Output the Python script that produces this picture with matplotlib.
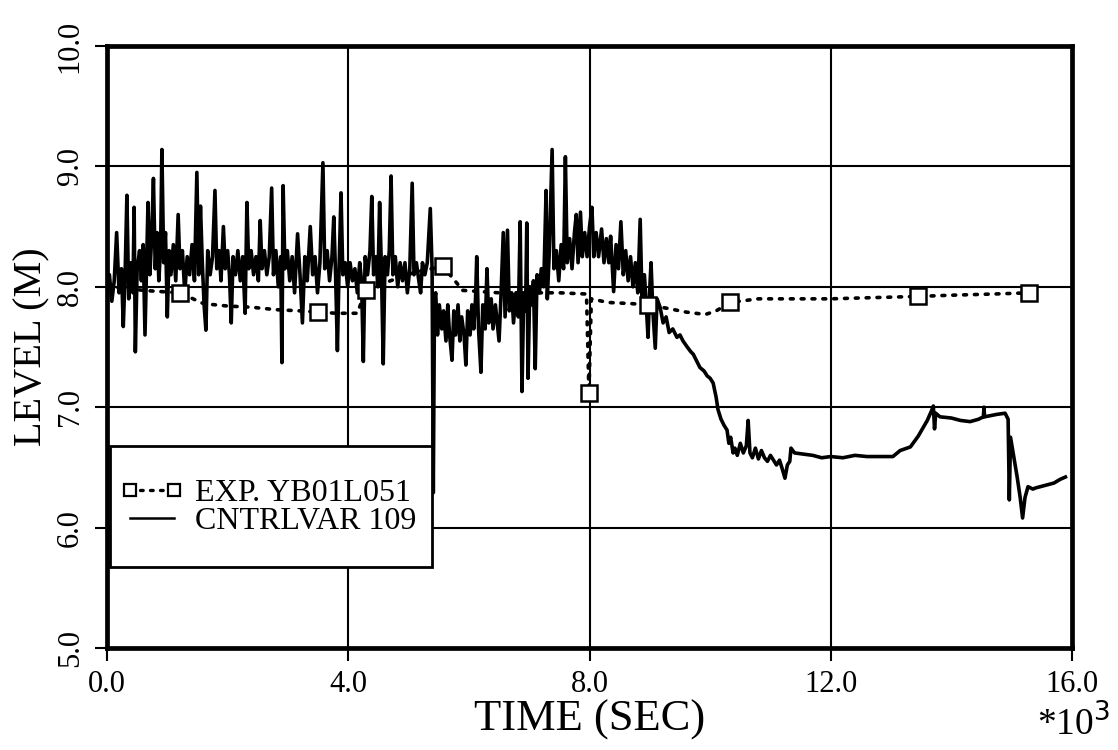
import matplotlib
matplotlib.use("Agg")
import matplotlib.pyplot as plt
from matplotlib.lines import Line2D
from matplotlib.patches import Rectangle

# ---------------- data (time in 1000 s, level in m) ----------------
cv_time = [
    0.00, 0.04, 0.08, 0.12, 0.16, 0.20, 0.24, 0.27, 0.30, 0.33, 0.36, 0.40, 0.43, 0.45, 0.47, 0.50,
    0.54, 0.57, 0.60, 0.63, 0.66, 0.68, 0.71, 0.74, 0.77, 0.80, 0.83, 0.86, 0.89, 0.91, 0.94, 0.97,
    1.00, 1.03, 1.06, 1.10, 1.14, 1.18, 1.21, 1.25, 1.29, 1.33, 1.37, 1.41, 1.45, 1.49, 1.52, 1.55,
    1.58, 1.61, 1.64, 1.67, 1.71, 1.75, 1.79, 1.82, 1.86, 1.89, 1.93, 1.96, 2.00, 2.03, 2.06, 2.09,
    2.13, 2.17, 2.21, 2.25, 2.29, 2.32, 2.35, 2.39, 2.43, 2.47, 2.51, 2.54, 2.57, 2.61, 2.65, 2.69,
    2.73, 2.76, 2.80, 2.84, 2.88, 2.90, 2.92, 2.95, 2.99, 3.03, 3.07, 3.11, 3.16, 3.20, 3.24, 3.28,
    3.32, 3.37, 3.41, 3.45, 3.49, 3.53, 3.58, 3.61, 3.65, 3.69, 3.73, 3.76, 3.79, 3.82, 3.85, 3.88,
    3.91, 3.95, 3.99, 4.03, 4.07, 4.11, 4.15, 4.19, 4.22, 4.25, 4.28, 4.32, 4.36, 4.39, 4.42, 4.46,
    4.49, 4.52, 4.55, 4.58, 4.61, 4.65, 4.68, 4.71, 4.74, 4.78, 4.82, 4.86, 4.90, 4.94, 4.98, 5.02,
    5.06, 5.09, 5.13, 5.17, 5.20, 5.23, 5.27, 5.31, 5.36, 5.39, 5.41, 5.43,
    5.45, 5.48, 5.51, 5.55, 5.58, 5.62, 5.65, 5.68, 5.72, 5.75, 5.78, 5.82, 5.85, 5.88, 5.92, 5.95,
    5.98, 6.02, 6.05, 6.08, 6.11, 6.13, 6.16, 6.20, 6.23, 6.27, 6.30, 6.33, 6.37, 6.40, 6.44, 6.47,
    6.50, 6.53, 6.57, 6.60, 6.64, 6.67, 6.71, 6.74, 6.78, 6.82, 6.85, 6.88, 6.91, 6.94, 6.96, 6.98,
    7.01, 7.04, 7.07, 7.10, 7.13, 7.17, 7.20, 7.24, 7.28, 7.30, 7.33, 7.38, 7.41, 7.45, 7.49, 7.53,
    7.57, 7.60, 7.63, 7.67, 7.71, 7.75, 7.78, 7.81, 7.85, 7.88, 7.92, 7.96, 8.00, 8.04, 8.07, 8.11,
    8.15, 8.20, 8.24, 8.28, 8.32, 8.35, 8.40, 8.44, 8.48, 8.52, 8.56, 8.60, 8.64, 8.68, 8.72, 8.76,
    8.80, 8.84, 8.87, 8.91, 8.94, 8.97, 9.00, 9.02, 9.05, 9.09, 9.12, 9.17, 9.22, 9.27, 9.32, 9.38,
    9.45, 9.50, 9.55, 9.62, 9.68, 9.72, 9.78, 9.83, 9.90, 9.95, 10.00, 10.05, 10.10, 10.13, 10.18, 10.23,
    10.28, 10.31, 10.34, 10.38, 10.41, 10.45, 10.50, 10.55, 10.60, 10.63, 10.66, 10.70, 10.75, 10.80, 10.85, 10.90,
    10.95, 11.00, 11.05, 11.10, 11.15, 11.20, 11.24, 11.28, 11.32, 11.34, 11.40, 11.55, 11.70, 11.85, 12.00, 12.20,
    12.40, 12.60, 12.80, 13.03, 13.15, 13.32, 13.45, 13.60, 13.67, 13.70, 13.72, 13.74, 13.81, 14.00, 14.15, 14.31,
    14.45, 14.53, 14.54, 14.55, 14.75, 14.89, 14.94, 14.96, 14.98, 15.03, 15.09, 15.14, 15.18, 15.22, 15.27, 15.35,
    15.40, 15.55, 15.70, 15.80, 15.89,
]
cv_level = [
    7.95, 8.10, 7.88, 8.05, 8.45, 7.95, 8.15, 7.67, 8.10, 8.76, 7.90, 8.20, 7.95, 8.66, 7.46, 8.15,
    8.30, 8.05, 8.35, 7.60, 8.25, 8.70, 8.10, 8.40, 8.90, 8.15, 8.45, 8.05, 8.35, 9.14, 8.20, 8.45,
    7.75, 8.30, 8.10, 8.35, 8.05, 8.60, 8.15, 8.30, 7.95, 8.25, 8.10, 8.35, 8.05, 8.95, 8.10, 8.67,
    8.20, 7.85, 7.64, 8.30, 8.10, 8.25, 8.80, 8.15, 8.30, 8.05, 8.50, 8.15, 8.30, 8.10, 7.70, 8.25,
    8.10, 8.30, 8.05, 8.25, 7.78, 8.70, 8.15, 8.30, 8.10, 8.25, 8.05, 8.55, 8.15, 8.30, 8.10, 8.25,
    8.82, 8.10, 8.30, 8.00, 8.25, 7.37, 8.84, 8.15, 8.30, 8.05, 8.25, 7.95, 8.44, 8.10, 7.70, 8.25,
    8.05, 8.50, 8.10, 8.25, 7.95, 8.20, 9.03, 8.15, 8.30, 8.05, 8.25, 8.58, 8.10, 7.47, 8.20, 8.78,
    8.10, 8.20, 8.00, 8.20, 8.05, 8.15, 7.95, 8.20, 8.05, 7.38, 8.25, 8.10, 8.30, 8.75, 8.10, 8.25,
    8.00, 8.70, 8.15, 7.36, 8.25, 8.10, 8.30, 8.92, 8.10, 8.25, 8.00, 8.20, 8.05, 8.20, 7.95, 8.15,
    8.86, 8.10, 8.20, 8.05, 7.95, 8.20, 8.10, 8.20, 8.65, 8.15, 6.29, 7.90,
    7.95, 7.60, 7.85, 7.65, 7.80, 7.55, 7.85, 7.60, 7.39, 7.80, 7.60, 7.85, 7.55, 7.75, 7.60, 7.35,
    7.80, 7.60, 7.85, 7.65, 7.90, 8.25, 7.65, 7.29, 7.85, 7.65, 8.15, 7.70, 7.90, 7.65, 7.85, 7.70,
    7.55, 7.90, 8.45, 7.75, 8.47, 7.80, 7.95, 7.70, 7.95, 7.75, 8.54, 7.13, 7.95, 7.80, 8.53, 7.24,
    8.00, 7.85, 8.05, 7.32, 8.10, 7.95, 8.15, 8.00, 8.80, 7.90, 8.25, 9.14, 8.15, 8.30, 8.05, 8.35,
    8.15, 9.08, 8.20, 8.40, 8.15, 8.45, 8.60, 8.20, 8.62, 8.25, 8.45, 8.25, 8.50, 8.66, 8.25, 8.45,
    8.25, 8.48, 8.20, 8.40, 8.20, 8.42, 7.96, 8.35, 8.15, 8.54, 8.10, 8.30, 8.05, 8.25, 8.00, 8.20,
    7.95, 8.56, 7.90, 8.10, 7.85, 7.58, 8.00, 8.20, 7.80, 7.49, 7.90, 7.83, 7.70, 7.75, 7.62, 7.65,
    7.58, 7.60, 7.55, 7.50, 7.46, 7.44, 7.38, 7.33, 7.30, 7.26, 7.24, 7.20, 7.08, 6.98, 6.90, 6.85,
    6.81, 6.70, 6.75, 6.62, 6.66, 6.60, 6.70, 6.62, 6.68, 6.89, 6.62, 6.58, 6.66, 6.57, 6.64, 6.58,
    6.55, 6.60, 6.56, 6.52, 6.56, 6.48, 6.41, 6.52, 6.55, 6.66, 6.62, 6.61, 6.60, 6.58, 6.59, 6.58,
    6.60, 6.59, 6.59, 6.59, 6.64, 6.67, 6.76, 6.89, 6.97, 7.01, 6.82, 6.95, 6.92, 6.91, 6.89, 6.88,
    6.90, 6.92, 7.00, 6.92, 6.94, 6.95, 6.90, 6.23, 6.75, 6.60, 6.42, 6.25, 6.08, 6.25, 6.34, 6.32,
    6.33, 6.35, 6.37, 6.40, 6.42,
]

exp_time = [0.00, 0.30, 0.60, 0.90, 1.21, 1.60, 2.00, 2.40, 2.80, 3.20, 3.50, 3.80, 4.15, 4.29,
            4.70, 5.10, 5.57, 5.90, 6.50, 7.00, 7.50, 7.95, 7.99, 8.03, 8.30, 8.70, 8.97, 9.30,
            9.60, 9.92, 10.10, 10.33, 10.80, 11.50, 12.00, 12.70, 13.45, 14.00, 14.70, 15.29]
exp_level = [8.00, 7.99, 7.97, 7.96, 7.95, 7.86, 7.84, 7.83, 7.81, 7.80, 7.79, 7.78, 7.78, 7.97,
             8.05, 8.12, 8.17, 7.97, 7.95, 7.95, 7.95, 7.94, 7.12, 7.90, 7.87, 7.86, 7.85, 7.82,
             7.79, 7.77, 7.80, 7.87, 7.90, 7.90, 7.90, 7.91, 7.92, 7.93, 7.94, 7.95]
exp_marker_time = [1.21, 3.50, 4.29, 5.57, 7.99, 8.97, 10.33, 13.45, 15.29]

x_ticks = [0.0, 4.0, 8.0, 12.0, 16.0]
y_ticks = [5.0, 6.0, 7.0, 8.0, 9.0, 10.0]
x_label = "TIME (SEC)"
y_label = "LEVEL (M)"
exp_name = "EXP. YB01L051"
cv_name = "CNTRLVAR 109"

# ---------------- figure ----------------
plt.rcParams['font.family'] = ['Liberation Serif', 'DejaVu Serif']
fig = plt.figure(figsize=(11.18, 7.5), dpi=100)
ax = fig.add_axes([0.0957, 0.136, 0.8632, 0.8027])

ax.set_xlim(0, 16)
ax.set_ylim(5, 10)
ax.set_xticks(x_ticks)
ax.set_yticks(y_ticks)
ax.set_xticklabels([f"{v:.1f}" for v in x_ticks])
ax.set_yticklabels([f"{v:.1f}" for v in y_ticks], rotation=90, va='center')
ax.tick_params(axis='both', direction='out', length=9, width=1.5, color='black',
               pad=7, labelsize=22)
ax.grid(True, color='black', linewidth=1.5)
ax.set_axisbelow(True)
for s in ax.spines.values():
    s.set_linewidth(3.4)
    s.set_color('black')

ax.plot(cv_time, cv_level, color='black', linewidth=2.6, zorder=3)

marker_idx = [exp_time.index(t) for t in exp_marker_time]
ax.plot(exp_time, exp_level, color='black', linestyle=(0, (0.8, 2.2)), linewidth=2.6,
        dash_capstyle='round',
        marker='s', markersize=11, markerfacecolor='white', markeredgecolor='black',
        markeredgewidth=1.8, markevery=marker_idx, zorder=4)

ax.set_xlabel(x_label, fontsize=32, labelpad=0)
ax.set_ylabel(y_label, fontsize=29, labelpad=4)
fig.text(0.993, 0.035, r"*10$^{3}$", fontsize=27, ha='right', va='center')

# legend box (frame drawn in axes coordinates)
box = Rectangle((0.003, 0.1345), 0.334, 0.201, transform=ax.transAxes,
                facecolor='white', edgecolor='black', linewidth=2.0, zorder=9)
ax.add_patch(box)
h_exp = Line2D([], [], color='black', linestyle=(0, (0.8, 2.2)), linewidth=2.4,
               dash_capstyle='round',
               marker='s', markersize=9, markerfacecolor='white', markeredgecolor='black',
               markeredgewidth=1.6)
h_cv = Line2D([], [], color='black', linewidth=1.8)
leg = ax.legend([h_exp, h_cv], [exp_name, cv_name], loc='center left',
                bbox_to_anchor=(0.0135, 0.234), fontsize=23, numpoints=2,
                handlelength=2.0, handletextpad=0.35, borderpad=0.0, labelspacing=-0.05,
                frameon=False, borderaxespad=0)
leg.set_zorder(10)

fig.savefig("out.png", dpi=100)
